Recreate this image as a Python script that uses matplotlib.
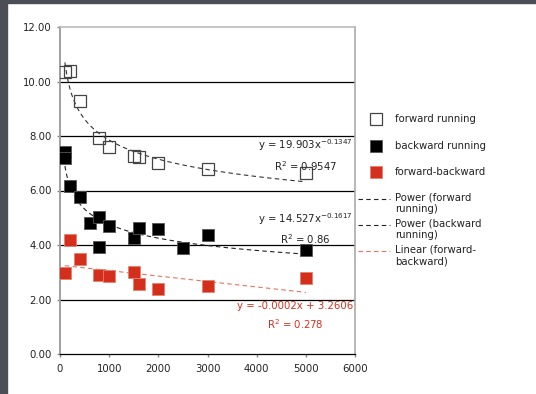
import numpy as np
import matplotlib
matplotlib.use("Agg")
import matplotlib.pyplot as plt
from matplotlib.lines import Line2D
from matplotlib.patches import Rectangle

# values
fwd_x = [100, 200, 400, 800, 1000, 1500, 1600, 2000, 3000, 5000]
fwd_y = [10.35, 10.37, 9.28, 7.92, 7.60, 7.28, 7.22, 7.02, 6.79, 6.63]

bwd_x = [100, 100, 200, 400, 600, 800, 800, 1000, 1500, 1600, 2000, 2500, 3000, 5000]
bwd_y = [7.40, 7.20, 6.17, 5.75, 4.79, 5.01, 3.94, 4.70, 4.26, 4.62, 4.60, 3.89, 4.35, 3.82]

fb_x = [100, 200, 400, 800, 1000, 1500, 1600, 2000, 3000, 5000]
fb_y = [2.96, 4.18, 3.50, 2.91, 2.87, 3.02, 2.57, 2.40, 2.50, 2.79]

# trendline coefficients as printed on the chart
fwd_a, fwd_b = 19.903, -0.1347
bwd_a, bwd_b = 14.527, -0.1617
fb_m, fb_c = -0.0002, 3.2606

RED = "#d42f1c"
RED_LINE = "#e8705f"
FS = 7.3
MS = 8

plt.rcParams['font.family'] = ['DejaVu Sans']

fig = plt.figure(figsize=(5.36, 3.94), dpi=100)
fig.patch.set_facecolor("white")
# dark slide border on top and left
fig.add_artist(Rectangle((0, 1 - 3 / 394), 1, 3 / 394, transform=fig.transFigure,
                         color="#4b4e56", zorder=0))
fig.add_artist(Rectangle((0, 0), 7 / 536, 1, transform=fig.transFigure,
                         color="#4b4e56", zorder=0))

ax = fig.add_axes([60 / 536, 1 - 354 / 394, 295 / 536, 327 / 394])

# trendlines
tx = np.linspace(100, 5000, 300)
ax.plot(tx, fwd_a * tx ** fwd_b, color="#333333", lw=0.8, dashes=(4, 3), zorder=2)
ax.plot(tx, bwd_a * tx ** bwd_b, color="#222222", lw=0.8, dashes=(4, 3), zorder=2)
ax.plot(tx, fb_m * tx + fb_c, color=RED_LINE, lw=0.8, dashes=(4, 3), zorder=2)

ax.plot(fwd_x, fwd_y, ls="none", marker="s", ms=MS, mfc="none", mec="#444444",
        mew=0.9, zorder=3)
ax.plot(bwd_x, bwd_y, ls="none", marker="s", ms=MS, mfc="black", mec="#555555",
        mew=0.6, zorder=3)
ax.plot(fb_x, fb_y, ls="none", marker="s", ms=MS, mfc=RED, mec="#e8806f",
        mew=0.6, zorder=3)

ax.set_xlim(0, 6000)
ax.set_ylim(0, 12)
ax.set_xticks(np.arange(0, 6001, 1000))
ax.set_yticks(np.arange(0, 12.01, 2))
ax.set_yticklabels([f"{v:.2f}" for v in np.arange(0, 12.01, 2)])
for y in [2, 4, 6, 8, 10]:
    ax.axhline(y, color="black", lw=0.9, zorder=1)

ax.tick_params(axis="both", labelsize=FS, colors="#888888", labelcolor="#222222",
               length=2.2, width=1)
ax.tick_params(axis="y", pad=3.5)
ax.tick_params(axis="x", pad=5)
ax.spines["left"].set_color("#999999")
ax.spines["left"].set_linewidth(1.3)
ax.spines["bottom"].set_color("black")
ax.spines["bottom"].set_linewidth(0.9)
ax.spines["top"].set_color("#bbbbbb")
ax.spines["right"].set_color("#aaaaaa")
ax.spines["top"].set_linewidth(1.2)
ax.spines["right"].set_linewidth(1.2)

# trendline equations
ax.text(5960, 7.30, "y = 19.903x$^{-0.1347}$\nR$^2$ = 0.9547", ha="right", va="center",
        multialignment="center", fontsize=FS, color="#222222", linespacing=1.5)
ax.text(5960, 4.60, "y = 14.527x$^{-0.1617}$\nR$^2$ = 0.86", ha="right", va="center",
        multialignment="center", fontsize=FS, color="#222222", linespacing=1.5)
ax.text(5960, 1.39, "y = -0.0002x + 3.2606\nR$^2$ = 0.278", ha="right", va="center",
        multialignment="center", fontsize=FS, color=RED, linespacing=1.5)

# legend drawn by hand
W, H = 536.0, 394.0
marker_entries = [
    ("forward running", dict(mfc="none", mec="#444444", mew=0.9), 119),
    ("backward running", dict(mfc="black", mec="#555555", mew=0.6), 146),
    ("forward-backward", dict(mfc=RED, mec="#e8806f", mew=0.6), 172),
]
for label, style, py in marker_entries:
    fig.add_artist(Line2D([376 / W], [1 - py / H], marker="s", ms=MS, ls="none", **style))
    fig.text(395 / W, 1 - py / H, label, fontsize=FS, va="center", ha="left",
             color="#222222")

line_entries = [
    ("Power (forward\nrunning)", "#222222", 199),
    ("Power (backward\nrunning)", "#222222", 225),
    ("Linear (forward-\nbackward)", RED_LINE, 251),
]
for label, col, py in line_entries:
    fig.add_artist(Line2D([358 / W, 390 / W], [1 - py / H, 1 - py / H], color=col,
                          lw=0.8, dashes=(4, 3)))
    fig.text(395 / W, 1 - (py - 6) / H, label, fontsize=FS, va="top", ha="left",
             color="#222222", linespacing=1.15)

fig.savefig("out.png", dpi=100)
